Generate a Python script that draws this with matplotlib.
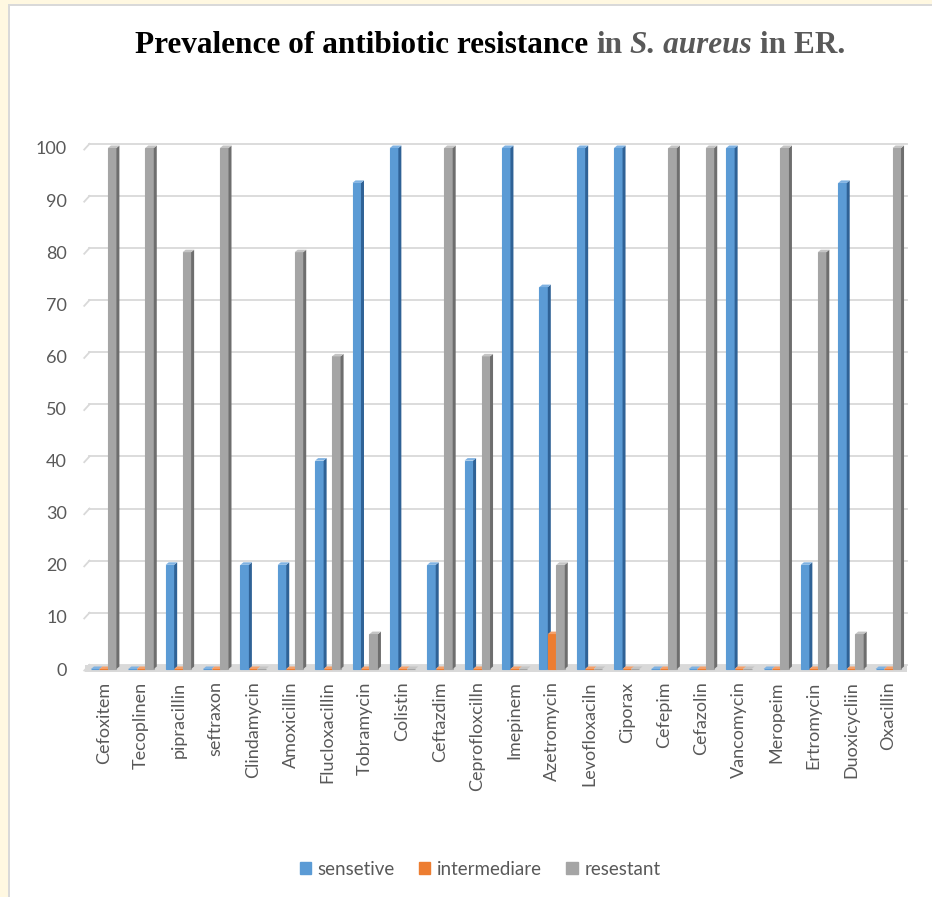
import numpy as np
import matplotlib
matplotlib.use("Agg")
import matplotlib.pyplot as plt
import matplotlib.patches as mpatches
from matplotlib.patches import Polygon, Rectangle

# ── data ──
drugs = ["Cefoxitem", "Tecoplinen", "pipracillin", "seftraxon", "Clindamycin",
         "Amoxicillin", "Flucloxacillin", "Tobramycin", "Colistin", "Ceftazdim",
         "Ceprofloxcilln", "Imepinem", "Azetromycin", "Levofloxaciln", "Ciporax",
         "Cefepim", "Cefazolin", "Vancomycin", "Meropeim", "Ertromycin",
         "Duoxicycliin", "Oxacillin"]
sensetive = [0, 0, 20, 0, 20, 20, 40, 93.3, 100, 20, 40, 100, 73.3, 100, 100,
             0, 0, 100, 0, 20, 93.3, 0]
intermediare = [0, 0, 0, 0, 0, 0, 0, 0, 0, 0, 0, 0, 6.7, 0, 0,
                0, 0, 0, 0, 0, 0, 0]
resestant = [100, 100, 80, 100, 0, 80, 60, 6.7, 0, 100, 60, 0, 20, 0, 0,
             100, 100, 0, 100, 80, 6.7, 100]
yticks = list(range(0, 101, 10))

series = [
    ("sensetive", sensetive, "#5b9bd5", "#2f6296", "#7fb2e2"),
    ("intermediare", intermediare, "#ed7d31", "#b3581c", "#f4a06a"),
    ("resestant", resestant, "#a5a5a5", "#6e6e6e", "#c4c4c4"),
]

W, H = 932, 897
fig = plt.figure(figsize=(W / 100, H / 100), dpi=100, facecolor="white")

# outer frame strips
fig.patches.append(Rectangle((0, 0), 8 / W, 1, transform=fig.transFigure,
                             facecolor="#fff8e1", edgecolor="none", zorder=0))
fig.patches.append(Rectangle((0, 1 - 4 / H), 1, 4 / H, transform=fig.transFigure,
                             facecolor="#fff8e1", edgecolor="none", zorder=0))
fig.patches.append(Rectangle((8 / W, 0), 2 / W, 1 - 4 / H, transform=fig.transFigure,
                             facecolor="#d9d9d9", edgecolor="none", zorder=0))
fig.patches.append(Rectangle((8 / W, 1 - 6 / H), 1, 2 / H, transform=fig.transFigure,
                             facecolor="#d9d9d9", edgecolor="none", zorder=0))

left, right, bottom, top = 85, 907, 669, 148
ax = fig.add_axes([left / W, 1 - bottom / H, (right - left) / W, (bottom - top) / H])
ax.set_xlim(-0.5, len(drugs) - 0.5)
ax.set_ylim(0, 100)
for s in ax.spines.values():
    s.set_visible(False)

x = np.arange(len(drugs))
bw = 0.227
dx = 3.0 / ((right - left) / len(drugs))   # depth offset in category units
dy = 2.5 / ((bottom - top) / 100)          # depth offset in value units
back = 0.8                                  # back wall lift for gridlines

# back wall gridlines with a short perspective stub on the left
for t in yticks:
    ax.plot([-0.5 + 0.12, len(drugs) - 0.5], [t + back, t + back],
            color="#d9d9d9", lw=1.3, zorder=0, clip_on=False)
    ax.plot([-0.5 - 0.02, -0.5 + 0.12], [t - 0.3, t + back],
            color="#d9d9d9", lw=1.3, zorder=0, clip_on=False)
# floor
ax.fill_between([-0.5, len(drugs) - 0.5], -0.5, 0.8, color="#d9d9d9",
                zorder=1, clip_on=False, lw=0)

for k, (name, vals, face, side, cap) in enumerate(series):
    xs = x + (k - 1) * bw
    ax.bar(xs, vals, width=bw, color=face, edgecolor=face, linewidth=0.8,
           zorder=3 + k, label=name, clip_on=False)
    for xi, v in zip(xs, vals):
        xr = xi + bw / 2
        xl = xi - bw / 2
        ax.add_patch(Polygon([(xr, 0), (xr + dx, dy), (xr + dx, v + dy), (xr, v)],
                             closed=True, facecolor=side, edgecolor="none",
                             zorder=3 + k, clip_on=False))
        ax.add_patch(Polygon([(xl, v), (xl + dx, v + dy), (xr + dx, v + dy), (xr, v)],
                             closed=True, facecolor=cap, edgecolor="none",
                             zorder=3 + k, clip_on=False))

ax.set_yticks(yticks)
ax.set_yticklabels([str(t) for t in yticks], fontsize=13, color="#595959",
                   family="Lato")
ax.set_xticks(x)
ax.set_xticklabels(drugs, rotation=90, fontsize=13, color="#595959",
                   family="Lato", va="top", ha="center")
ax.tick_params(axis="y", length=0, pad=13)
ax.tick_params(axis="x", length=0, pad=9)

# legend
handles = [mpatches.Patch(color=c, label=n) for n, _, c, _, _ in series]
leg = fig.legend(handles=handles, loc="center", bbox_to_anchor=(480 / W, 1 - 869 / H),
                 ncol=3, frameon=False, handlelength=0.6,
                 handleheight=0.6, handletextpad=0.35, columnspacing=1.3,
                 prop={"family": "Lato", "size": 13.5})
for t in leg.get_texts():
    t.set_color("#595959")

# title in pieces: black / grey / grey italic / grey
pieces = [
    ("Prevalence of antibiotic resistance", "black", "normal"),
    ("in", "#595959", "normal"),
    ("S. aureus", "#595959", "italic"),
    ("in ER.", "#595959", "normal"),
]
title_kw = dict(family="Liberation Serif", fontsize=22.5, fontweight="bold",
                va="baseline", ha="left")
renderer = fig.canvas.get_renderer()
probe1 = fig.text(0, 0, "x x", **title_kw)
probe2 = fig.text(0, 0, "xx", **title_kw)
gap = probe1.get_window_extent(renderer).width - probe2.get_window_extent(renderer).width
probe1.remove()
probe2.remove()

texts = [fig.text(0, 1 - 53 / H, s, color=c, style=st, **title_kw)
         for s, c, st in pieces]
widths = [t.get_window_extent(renderer).width for t in texts]
total = sum(widths) + gap * (len(texts) - 1)
xpos = 490 - total / 2
for t, w in zip(texts, widths):
    t.set_x(xpos / W)
    xpos += w + gap

fig.savefig("out.png", dpi=100, facecolor="white")
